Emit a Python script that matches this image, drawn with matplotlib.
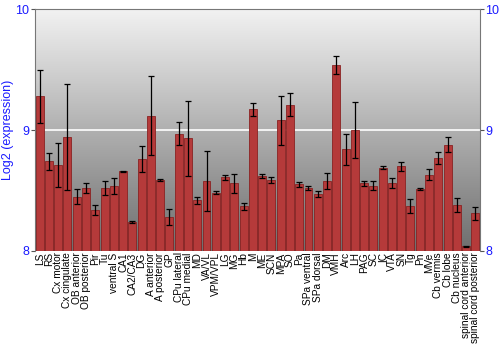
import numpy as np
import matplotlib
matplotlib.use("Agg")
import matplotlib.pyplot as plt

plt.rcParams['font.family'] = ['Liberation Sans', 'DejaVu Sans']

# regions and expression values
regions = ["LS", "RS", "Cx motor", "Cx cingulate", "OB anterior", "OB posterior", "Pir", "Tu",
           "ventral S", "CA1", "CA2/CA3", "DG", "A anterior", "A posterior", "GP", "CPu lateral",
           "CPu medial", "MD", "VA/VL", "VPM/VPL", "LG", "MG", "Hb", "M", "ME", "SCN", "MPA", "SO",
           "Pa", "SPa ventral", "SPa dorsal", "DM", "VMH", "Arc", "LH", "PAG", "SC", "IC", "VTA",
           "SN", "Tg", "Pn", "MVe", "Cb vermis", "Cb lobe", "Cb nucleus", "spinal cord anterior",
           "spinal cord posterior"]
log2_expr = [9.28, 8.74, 8.71, 8.94, 8.45, 8.52, 8.34, 8.52,
             8.54, 8.66, 8.24, 8.76, 9.12, 8.59, 8.28, 8.97,
             8.93, 8.42, 8.58, 8.48, 8.61, 8.56, 8.37, 9.17, 8.62, 8.59, 9.08, 9.21,
             8.55, 8.52, 8.47, 8.58, 9.54, 8.84, 9.00, 8.56, 8.54, 8.69, 8.56,
             8.70, 8.37, 8.51, 8.63, 8.77, 8.88, 8.38, 8.04,
             8.31]
err = [0.22, 0.07, 0.18, 0.44, 0.06, 0.04, 0.04, 0.06,
       0.065, 0.005, 0.01, 0.11, 0.33, 0.008, 0.065, 0.095,
       0.31, 0.03, 0.25, 0.012, 0.02, 0.08, 0.03, 0.05, 0.015, 0.025, 0.20, 0.095,
       0.02, 0.02, 0.025, 0.065, 0.075, 0.13, 0.235, 0.02, 0.04, 0.015, 0.04,
       0.035, 0.06, 0.01, 0.045, 0.05, 0.065, 0.06, 0.004,
       0.05]

blue = "#1a1aff"
fig = plt.figure(figsize=(5, 3.5), dpi=100)
ax = fig.add_axes([0.07, 0.283, 0.89, 0.691])

x = np.arange(len(regions))
# gray gradient background
grad = np.linspace(0, 1, 256).reshape(-1, 1)
ax.imshow(grad, extent=[-0.5, len(regions) - 0.5, 8, 10], aspect="auto",
          cmap=matplotlib.colors.LinearSegmentedColormap.from_list("g", ["#f2f2f2", "#6e6e6e"]),
          origin="upper", zorder=0)
ax.axhline(9, color="white", lw=1.2, zorder=1)

ax.bar(x, np.array(log2_expr) - 8, bottom=8, width=0.86, color="#b53a3a",
       edgecolor="#8a2222", linewidth=0.6, zorder=2)
ax.errorbar(x, log2_expr, yerr=err, fmt="none", ecolor="black", elinewidth=0.9,
            capsize=2, capthick=0.9, zorder=3)

ax.set_xlim(-0.5, len(regions) - 0.5)
ax.set_ylim(8, 10)
ax.set_xticks(x)
ax.set_xticklabels(regions, rotation=90, fontsize=7.3)
ax.tick_params(axis="x", length=0, pad=1)
ax.set_yticks([8, 9, 10])
ax.tick_params(axis="y", colors="#555555", labelcolor=blue, labelsize=9, length=3, pad=1,
               right=True, labelright=True)
ax.set_ylabel("Log2 (expression)", color=blue, fontsize=9, labelpad=1)
for s in ax.spines.values():
    s.set_color("#777777")
ax.spines["bottom"].set_visible(False)

fig.savefig("out.png", dpi=100)
